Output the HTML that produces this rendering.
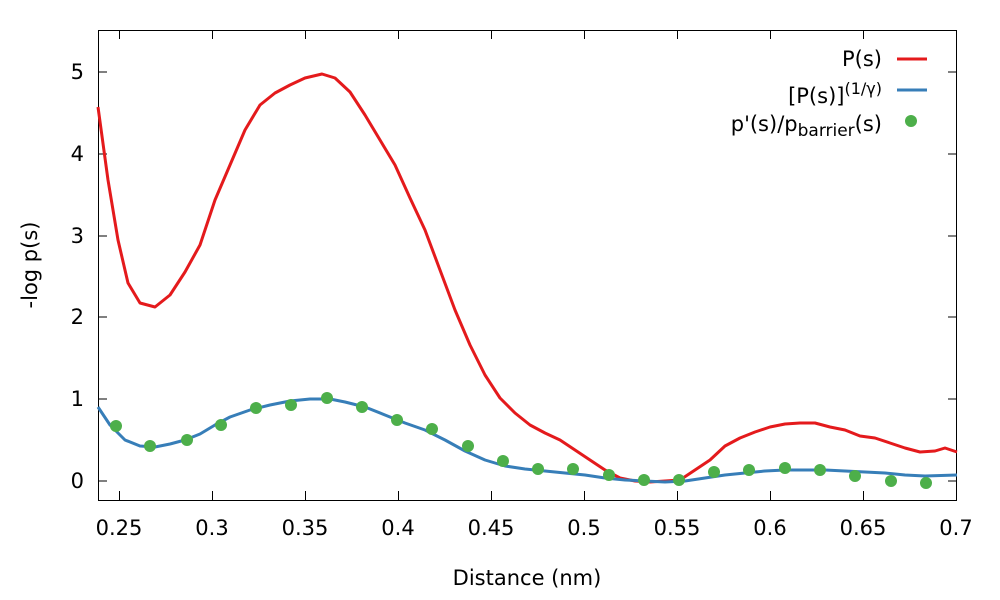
<!DOCTYPE html>
<html><head><meta charset="utf-8"><style>body{margin:0;background:#fff}svg{display:block}text{font-family:"DejaVu Sans","Liberation Sans",sans-serif;font-size:21px;fill:#000}</style></head><body>
<svg width="1000" height="600" viewBox="0 0 1000 600">
<g stroke="#000" stroke-width="1" fill="none">
<rect x="98.5" y="30.5" width="858" height="470"/>
<path d="M98 481h9M957 481h-9M98 399h9M957 399h-9M98 317h9M957 317h-9M98 236h9M957 236h-9M98 154h9M957 154h-9M98 72h9M957 72h-9"/>
<path d="M119.5 500v-9M119.5 30v9M212.5 500v-9M212.5 30v9M305.5 500v-9M305.5 30v9M398.5 500v-9M398.5 30v9M491.5 500v-9M491.5 30v9M584.5 500v-9M584.5 30v9M677.5 500v-9M677.5 30v9M770.5 500v-9M770.5 30v9M863.5 500v-9M863.5 30v9M956.5 500v-9M956.5 30v9"/>
</g>
<g text-anchor="end">
<text x="84" y="488">0</text><text x="84" y="406">1</text><text x="84" y="324">2</text><text x="84" y="243">3</text><text x="84" y="161">4</text><text x="84" y="79">5</text>
</g>
<g text-anchor="middle">
<text x="119" y="535">0.25</text><text x="212" y="535">0.3</text><text x="305" y="535">0.35</text><text x="398" y="535">0.4</text><text x="491" y="535">0.45</text><text x="584" y="535">0.5</text><text x="677" y="535">0.55</text><text x="770" y="535">0.6</text><text x="863" y="535">0.65</text><text x="956" y="535">0.7</text>
<text x="527" y="585">Distance (nm)</text>
<text transform="translate(37,265) rotate(-90)">-log p(s)</text>
</g>
<path fill="none" stroke="#e41a1c" stroke-width="3" stroke-linejoin="round" d="M98 107L108 180L118 240L128 283L140 303L155 307L170 295L185 272L200 245L215 200L230 165L245 130L260 105L275 93L290 85L305 78L322 74L335 78L350 92L365 115L380 140L395 165L410 198L425 230L440 270L455 310L470 345L485 375L500 398L515 413L530 425L545 433L560 440L575 450L590 460L605 470L620 478L635 481L650 482L665 481L680 480L695 470L710 460L725 446L740 438L755 432L770 427L785 424L800 423L815 423L830 427L845 430L860 436L875 438L890 443L905 448L920 452L935 451L945 448L957 452"/>
<path fill="none" stroke="#377eb8" stroke-width="3" stroke-linejoin="round" d="M98 407L110 425L125 440L140 446L155 447L170 444L185 440L200 434L215 425L230 417L250 410L270 405L290 401L310 399L330 399L345 402L365 407L385 415L405 423L425 430L445 440L465 451L485 460L505 466L525 469L545 471L565 473L585 475L605 478L625 480L645 481L665 482L685 481L705 478L725 475L745 473L765 471L785 470L805 470L825 470L845 471L865 472L885 473L905 475L925 476L957 475"/>
<g fill="#4daf4a">
<circle cx="116" cy="426" r="6"/><circle cx="150" cy="446" r="6"/><circle cx="187" cy="440" r="6"/><circle cx="221" cy="425" r="6"/><circle cx="256" cy="408" r="6"/><circle cx="291" cy="405" r="6"/><circle cx="327" cy="398" r="6"/><circle cx="362" cy="407" r="6"/><circle cx="397" cy="420" r="6"/><circle cx="432" cy="429" r="6"/><circle cx="468" cy="446" r="6"/><circle cx="503" cy="461" r="6"/><circle cx="538" cy="469" r="6"/><circle cx="573" cy="469" r="6"/><circle cx="609" cy="475" r="6"/><circle cx="644" cy="480" r="6"/><circle cx="679" cy="480" r="6"/><circle cx="714" cy="472" r="6"/><circle cx="749" cy="470" r="6"/><circle cx="785" cy="468" r="6"/><circle cx="820" cy="470" r="6"/><circle cx="855" cy="476" r="6"/><circle cx="891" cy="481" r="6"/><circle cx="926" cy="483" r="6"/>
<circle cx="911" cy="121" r="6"/>
</g>
<g text-anchor="end">
<text x="882" y="66">P(s)</text>
<text x="882" y="103">[P(s)]<tspan dy="-9" font-size="16">(1/γ)</tspan></text>
<text x="882" y="131">p'(s)/p<tspan dy="5" font-size="17">barrier</tspan><tspan dy="-5">(s)</tspan></text>
</g>
<path d="M897 59h30" stroke="#e41a1c" stroke-width="3"/>
<path d="M897 90h30" stroke="#377eb8" stroke-width="3"/>
</svg>
</body></html>
